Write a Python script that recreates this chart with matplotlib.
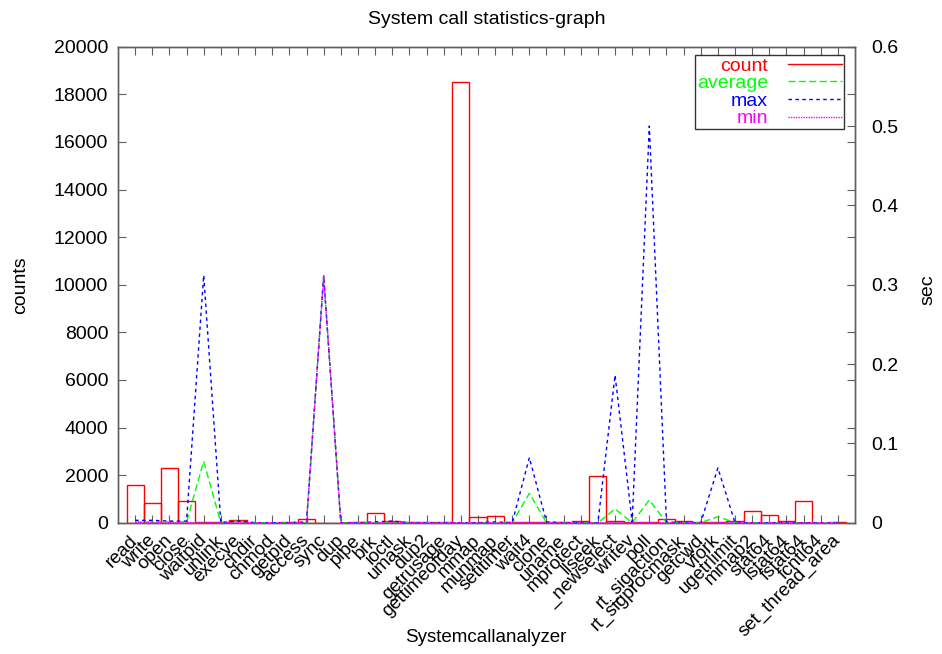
import matplotlib
matplotlib.use("Agg")
import matplotlib.pyplot as plt
from matplotlib.lines import Line2D

plt.rcParams['font.family'] = ['Liberation Sans', 'DejaVu Sans']

syscalls = ["read", "write", "open", "close", "waitpid", "unlink", "execve", "chdir",
            "chmod", "getpid", "access", "sync", "dup", "pipe", "brk", "ioctl", "umask",
            "dup2", "getrusage", "gettimeofday", "mmap", "munmap", "setitimer", "wait4",
            "clone", "uname", "mprotect", "llseek", "_newselect", "writev", "poll",
            "rt_sigaction", "rt_sigprocmask", "getcwd", "vfork", "ugetrlimit", "mmap2",
            "stat64", "lstat64", "fstat64", "fcntl64", "set_thread_area"]

count = [1600, 830, 2300, 900, 30, 20, 110, 3, 3, 40, 155, 5, 3, 25, 390, 80, 10,
         20, 20, 18500, 250, 290, 20, 20, 20, 20, 55, 1950, 55, 30, 50,
         140, 60, 40, 30, 55, 490, 325, 80, 900, 3, 30]

average = [0.001, 0.001, 0.001, 0.001, 0.0774, 0.0, 0.002, 0.0, 0.0, 0.0, 0.0, 0.311, 0.0,
           0.0, 0.0, 0.001, 0.0, 0.0, 0.0, 0.0, 0.0, 0.0, 0.0, 0.037, 0.0, 0.0, 0.0,
           0.0, 0.0173, 0.0, 0.0287, 0.0, 0.0, 0.0, 0.0076, 0.0, 0.0, 0.0, 0.0, 0.0, 0.0, 0.0]

maximum = [0.003, 0.003, 0.002, 0.002, 0.312, 0.0, 0.002, 0.0, 0.0, 0.0, 0.001, 0.311, 0.0,
           0.0, 0.001, 0.002, 0.0, 0.0, 0.0, 0.0, 0.0, 0.001, 0.0, 0.082, 0.001, 0.0, 0.0,
           0.0, 0.186, 0.001, 0.5, 0.001, 0.0, 0.0, 0.069, 0.0, 0.0, 0.0, 0.0, 0.0, 0.0, 0.0]

minimum = [0.0, 0.0, 0.0, 0.0, 0.0, 0.0, 0.0, 0.0, 0.0, 0.0, 0.0, 0.311, 0.0,
           0.0, 0.0, 0.0, 0.0, 0.0, 0.0, 0.0, 0.0, 0.0, 0.0, 0.0, 0.0, 0.0, 0.0,
           0.0, 0.0, 0.0, 0.0, 0.0, 0.0, 0.0, 0.0, 0.0, 0.0, 0.0, 0.0, 0.0, 0.0, 0.0]

count_ticks = [0, 2000, 4000, 6000, 8000, 10000, 12000, 14000, 16000, 18000, 20000]
sec_ticks = [0, 0.1, 0.2, 0.3, 0.4, 0.5, 0.6]

FS = 14
AXC = '#606060'

fig = plt.figure(figsize=(9.42, 6.54), dpi=100)
ax = fig.add_axes([118 / 942, 1 - 522.7 / 654, (855 - 118) / 942, (522.7 - 46.7) / 654])
ax2 = ax.twinx()

x = list(range(len(syscalls)))
ax.bar(x, count, width=1.0, fill=False, edgecolor='#ff0000', linewidth=1.0, zorder=2)
ax.set_xlim(-1, len(syscalls))
ax.set_ylim(0, 20000)
ax.set_yticks(count_ticks)
ax.set_yticklabels([str(t) for t in count_ticks], fontsize=FS)
ax.set_xticks(x)
ax.set_xticklabels(syscalls, rotation=45, ha='right', va='center',
                   rotation_mode='anchor', fontsize=13.5)
ax.tick_params(axis='x', which='both', direction='in', top=True, bottom=True,
               length=6, width=0.8, color=AXC, pad=11)
ax.tick_params(axis='y', direction='in', left=True, right=True, labelright=False,
               length=6, width=0.8, color=AXC, pad=7)

ax2.plot(x, average, color='#00ff00', linewidth=1.0, dashes=(5, 2.5), zorder=3)
ax2.plot(x, maximum, color='#0000ff', linewidth=1.0, dashes=(2.5, 2.5), zorder=4)
ax2.plot(x, minimum, color='#ff00ff', linewidth=1.0, dashes=(1, 0.8), zorder=5)
ax2.set_ylim(0, 0.6)
ax2.set_yticks(sec_ticks)
ax2.set_yticklabels(["0", "0.1", "0.2", "0.3", "0.4", "0.5", "0.6"], fontsize=FS)
ax2.tick_params(axis='y', direction='in', length=6, width=0.8, color=AXC, pad=12)

for a in (ax, ax2):
    for s in a.spines.values():
        s.set_color(AXC)
        s.set_linewidth(1.0)

ax.set_ylabel("counts", fontsize=FS)
ax.yaxis.set_label_coords(-0.12, 0.5)
ax2.set_ylabel("sec", fontsize=FS)
ax2.yaxis.set_label_coords(1.088, 0.49)
ax.set_title("System call statistics-graph", fontsize=FS, pad=16)
fig.text(486 / 942, 1 - 637 / 654, "Systemcallanalyzer", fontsize=13.5, ha='center', va='center')

handles = [
    Line2D([], [], color='#ff0000', linewidth=1.0),
    Line2D([], [], color='#00ff00', linewidth=1.0, dashes=(5, 2.5)),
    Line2D([], [], color='#0000ff', linewidth=1.0, dashes=(2.5, 2.5)),
    Line2D([], [], color='#ff00ff', linewidth=1.0, dashes=(1, 0.8)),
]
labels = ["count", "average", "max", "min"]
leg = ax2.legend(handles, labels, loc='upper right', bbox_to_anchor=(844 / 942, 1 - 55 / 654),
                 bbox_transform=fig.transFigure, markerfirst=False, fontsize=FS,
                 labelcolor=['#ff0000', '#00ff00', '#0000ff', '#ff00ff'],
                 frameon=True, fancybox=False, borderaxespad=0, handlelength=2.8,
                 labelspacing=0.0, borderpad=0.1, handletextpad=1.0)
leg.get_frame().set_edgecolor('#000000')
leg.get_frame().set_linewidth(1.0)

fig.savefig("out.png", dpi=100, facecolor='white')
